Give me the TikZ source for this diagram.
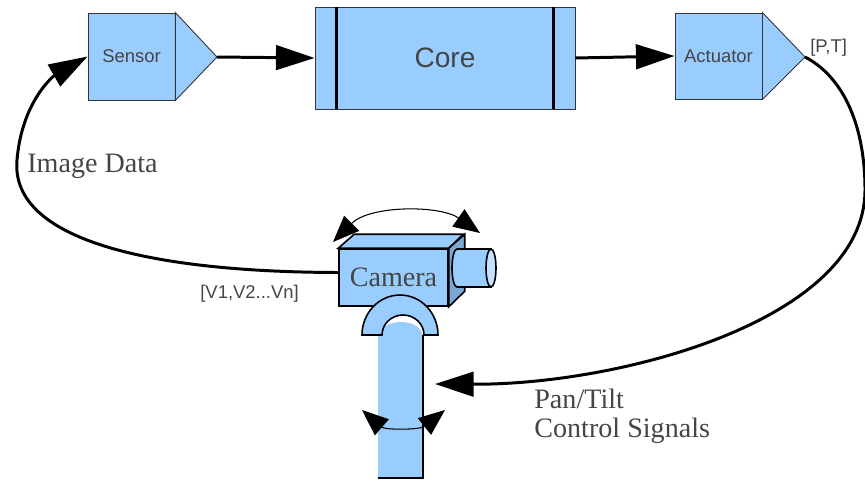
\documentclass[tikz,border=0pt]{standalone}
\usepackage{fontspec}
\setmainfont{Liberation Serif}
\setsansfont{Liberation Sans}
\usepackage{tikz}
\usetikzlibrary{arrows,arrows.meta,positioning,shapes,calc,backgrounds}
\usepackage{xcolor}

\definecolor{boxblue}{HTML}{99CCFF}
\definecolor{sideblue}{HTML}{7AA7D4}
\definecolor{lensblue}{HTML}{C4E1FF}
\definecolor{labelgray}{HTML}{454545}

\tikzset{
  block/.style={draw=black!80, fill=boxblue, line width=0.5pt, inner sep=0pt,
    text=labelgray, font=\sffamily\fontsize{10.5}{12}\selectfont},
  wedge/.style={draw=black!80, fill=boxblue, line width=0.5pt},
  solid part/.style={draw=black, fill=boxblue, line width=0.9pt},
  signal/.style={line width=1.7pt, -{Triangle[length=22pt,width=14pt]}},
  turn/.style={line width=0.6pt, {Triangle[length=15pt,width=12pt]}-{Triangle[length=15pt,width=12pt]}},
  caption/.style={text=labelgray, font=\fontsize{16}{16.5}\selectfont, inner sep=0pt},
  tag/.style={text=labelgray, font=\sffamily\fontsize{10.5}{12}\selectfont, inner sep=0pt}
}

\begin{document}
\begin{tikzpicture}[x=0.02cm, y=-0.02cm]
    \useasboundingbox (0,0) rectangle (865,481);

    % top row
    \node[block, minimum width=1.74cm, minimum height=1.74cm] (sensor) at (131.5,56.5) {Sensor};
    \coordinate (sensor tip) at (217,57);
    \draw[wedge] (sensor.north east) -- (sensor tip) -- (sensor.south east) -- cycle;

    \node[block, minimum width=5.2cm, minimum height=2.04cm, font=\sffamily\fontsize{16}{18}\selectfont] (core) at (445,58) {Core};
    \draw[line width=1.5pt] ([xshift=0.44cm]core.north west) -- ([xshift=0.44cm]core.south west);
    \draw[line width=1.5pt] ([xshift=-0.44cm]core.north east) -- ([xshift=-0.44cm]core.south east);

    \node[block, minimum width=1.74cm, minimum height=1.72cm] (actuator) at (718.5,56) {Actuator};
    \coordinate (actuator tip) at (805,57);
    \draw[wedge] (actuator.north east) -- (actuator tip) -- (actuator.south east) -- cycle;
    \node[tag, anchor=base west] (pt) at (810,52) {[P,T]};

    \draw[signal] (sensor tip) -- (core.west);
    \draw[signal] (core.east) -- (actuator.west);

    % pole and mount
    \node[fill=boxblue, minimum width=0.9cm, minimum height=2.86cm, inner sep=0pt] (pole) at (400.5,406.5) {};
    \fill[boxblue] (380,335) arc[start angle=180, end angle=360, x radius=21, y radius=13];
    \draw[line width=1pt] (pole.north east) -- (pole.south east) -- (pole.south west);
    \coordinate (pole feed) at (435,384);

    % camera
    \node[solid part, caption, minimum width=2.18cm, minimum height=1.14cm] (camera) at (393.5,277.5) {Camera};
    \draw[solid part] (camera.north west) -- ++(16,-14) -- ++(109,0) -- (camera.north east) -- cycle;
    \draw[solid part, fill=sideblue] (camera.north east) -- ++(16,-14) -- ++(0,57) -- (camera.south east) -- cycle;
    \draw[solid part] (491,249) -- (457,249) arc[start angle=-90, end angle=-270, x radius=5, y radius=19] -- (491,287) -- cycle;
    \draw[solid part, fill=lensblue] (491,268) ellipse [x radius=5, y radius=19];
    \draw[solid part] (362,335) arc[start angle=180, end angle=360, x radius=38, y radius=40] -- (424,335)
        arc[start angle=0, end angle=-180, x radius=21, y radius=20] -- cycle;

    % rotation marks
    \draw[turn] (333,242) .. controls (370,205) and (440,205) .. (480,233);
    \draw[turn] (362,410) .. controls (385,430) and (420,430) .. (445,410);

    % feedback loop
    \draw[signal] ([yshift=0.1cm]camera.west) .. controls (150,272) and (10,240) .. (17,160)
        .. controls (22,100) and (55,75) .. (sensor.west);
    \node[tag, anchor=base west] (vec) at (200,298) {[V1,V2...Vn]};
    \node[caption, anchor=base west] (img) at (27,172) {Image Data};

    \draw[signal] (actuator tip) .. controls (840,75) and (865,120) .. (865,190)
        .. controls (865,320) and (620,385) .. (pole feed);
    \node[caption, anchor=base west] (pan) at (534,408) {Pan/Tilt};
    \node[caption, anchor=base west] (ctrl) at (534,437) {Control Signals};
\end{tikzpicture}
\end{document}
